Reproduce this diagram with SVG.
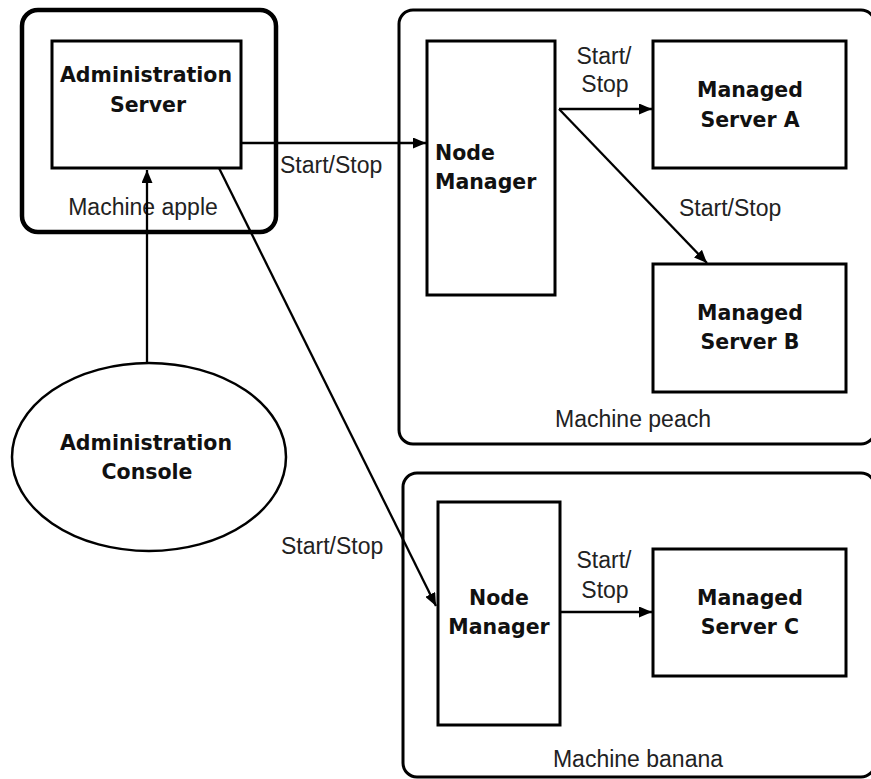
<svg xmlns="http://www.w3.org/2000/svg" width="871" height="779" viewBox="0 0 871 779">
<style>
.machine{fill:none;stroke:#000;stroke-width:3}
.box{fill:#fff;stroke:#000;stroke-width:3}
.b{font-family:"DejaVu Sans",sans-serif;font-weight:bold;font-size:20.5px;fill:#111;text-anchor:middle}
.r{font-family:"Liberation Sans",Arial,sans-serif;font-size:23px;fill:#222}
.m{text-anchor:middle}
.c{fill:none;stroke:#000;stroke-width:2.3}
</style>
<defs>
<marker id="ah" viewBox="0 0 13 11" refX="13" refY="5.5" markerWidth="13" markerHeight="11" markerUnits="userSpaceOnUse" orient="auto">
<path d="M0,0 L13,5.5 L0,11 Z" fill="#000"/>
</marker>
</defs>
<rect width="871" height="779" fill="#fff"/>
<g id="machine-apple">
<rect x="22" y="10" width="254" height="222" rx="16" fill="none" stroke="#000" stroke-width="4.5"/>
<text class="r m" x="143" y="215">Machine apple</text>
</g>
<g id="machine-peach">
<rect class="machine" x="399" y="10" width="476" height="434" rx="14"/>
<text class="r m" x="633" y="427">Machine peach</text>
</g>
<g id="machine-banana">
<rect class="machine" x="403" y="473" width="472" height="304" rx="14"/>
<text class="r m" x="638" y="767">Machine banana</text>
</g>
<g id="admin-server">
<rect class="box" x="52" y="41" width="189" height="127"/>
<text class="b" x="146" y="82">Administration</text>
<text class="b" x="148" y="112">Server</text>
</g>
<g id="admin-console">
<ellipse cx="149" cy="457" rx="137" ry="94" fill="#fff" stroke="#000" stroke-width="2.5"/>
<text class="b" x="146" y="450">Administration</text>
<text class="b" x="147" y="479">Console</text>
</g>
<g id="nm-peach">
<rect class="box" x="427" y="41" width="128" height="254"/>
<text class="b" x="435" y="160" style="text-anchor:start">Node</text>
<text class="b" x="435" y="189" style="text-anchor:start">Manager</text>
</g>
<g id="ms-a">
<rect class="box" x="653" y="41" width="193" height="127"/>
<text class="b" x="750" y="97">Managed</text>
<text class="b" x="750" y="127">Server A</text>
</g>
<g id="ms-b">
<rect class="box" x="653" y="264" width="193" height="128"/>
<text class="b" x="750" y="320">Managed</text>
<text class="b" x="750" y="349">Server B</text>
</g>
<g id="nm-banana">
<rect class="box" x="438" y="502" width="122" height="223"/>
<text class="b" x="499" y="605">Node</text>
<text class="b" x="499" y="634">Manager</text>
</g>
<g id="ms-c">
<rect class="box" x="653" y="549" width="193" height="127"/>
<text class="b" x="750" y="605">Managed</text>
<text class="b" x="750" y="634">Server C</text>
</g>
<g id="connectors">
<line class="c" x1="147" y1="363" x2="147" y2="170" marker-end="url(#ah)"/>
<line class="c" x1="241" y1="143" x2="426" y2="143" marker-end="url(#ah)"/>
<line class="c" x1="559" y1="109" x2="652" y2="109" marker-end="url(#ah)"/>
<line class="c" x1="559" y1="109" x2="707" y2="263" marker-end="url(#ah)"/>
<line class="c" x1="560" y1="612" x2="652" y2="612" marker-end="url(#ah)"/>
<line class="c" x1="219" y1="168" x2="436" y2="606" marker-end="url(#ah)"/>
<text class="r" x="280" y="173">Start/Stop</text>
<text class="r m" x="604" y="64">Start/</text>
<text class="r m" x="605" y="92">Stop</text>
<text class="r" x="679" y="216">Start/Stop</text>
<text class="r m" x="604" y="568">Start/</text>
<text class="r m" x="605" y="598">Stop</text>
<text class="r" x="281" y="554">Start/Stop</text>
</g>
</svg>
